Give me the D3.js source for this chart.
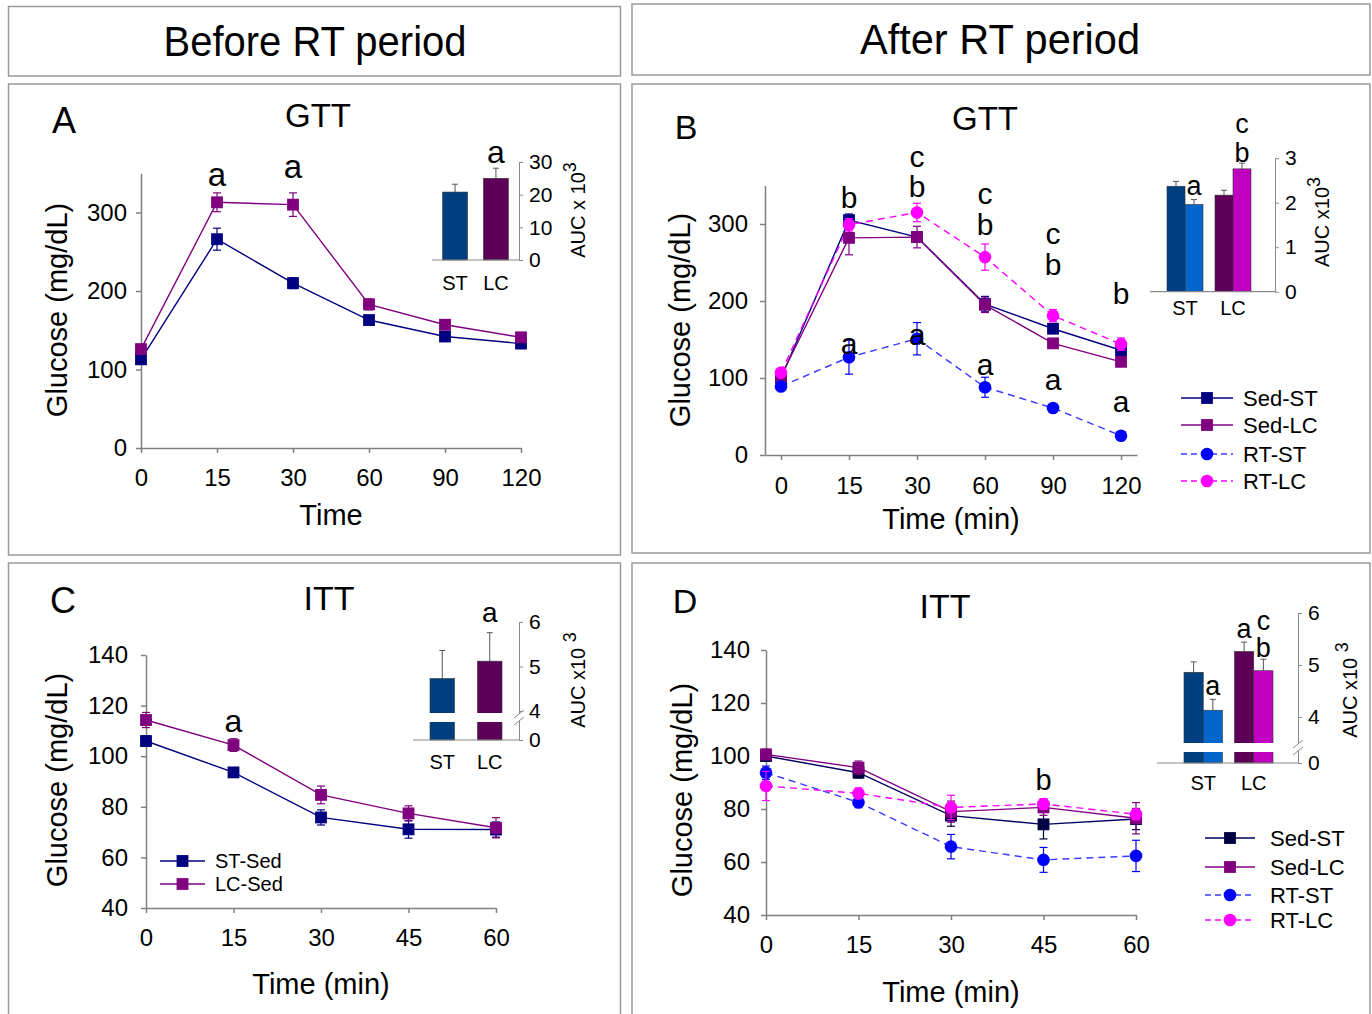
<!DOCTYPE html>
<html>
<head>
<meta charset="utf-8">
<style>
  body { margin: 0; background: #fff; }
  svg { display: block; font-family: 'Liberation Sans', Arial, sans-serif; }
  .box { fill: none; stroke: #9a9a9a; stroke-width: 1.5; }
  .axis path, .axis line { stroke: #808080; stroke-width: 1.5; }
  .inset path, .inset line { stroke: #8a8a8a; stroke-width: 1; }
</style>
<title>GTT and ITT before and after RT period</title>
</head>
<body>
<svg width="1372" height="1014"></svg>
<script src="https://d3js.org/d3.v7.min.js"></script>
<script>
// ---- data ----
const gttTimes = ["0", "15", "30", "60", "90", "120"];
const ittTimes = ["0", "15", "30", "45", "60"];

// A: GTT before RT
const gttBeforeST = [113, 266, 210, 163, 142, 133];
const gttBeforeSTErr = [5, 14, 7, 4, 4, 3];
const gttBeforeLC = [126, 313, 310, 183, 157, 141];
const gttBeforeLCErr = [5, 12, 15, 7, 4, 4];

// B: GTT after RT
const gttSedST = [100, 305, 283, 196, 164, 136];
const gttSedSTErr = [4, 8, 6, 10, 5, 5];
const gttSedLC = [102, 282, 283, 195, 145, 121];
const gttSedLCErr = [4, 22, 14, 10, 4, 4];
const gttRTST = [89, 127, 151, 88, 61, 25];
const gttRTSTErr = [4, 22, 21, 13, 3, 3];
const gttRTLC = [107, 299, 315, 257, 181, 144];
const gttRTLCErr = [5, 8, 12, 17, 8, 8];

// C: ITT before RT
const ittBeforeST = [106, 93.6, 75.8, 71.1, 71];
const ittBeforeSTErr = [2, 1.5, 3, 3.5, 3];
const ittBeforeLC = [114.3, 104.4, 84.7, 77.4, 71.7];
const ittBeforeLCErr = [3, 2.5, 3.5, 3, 4];

// D: ITT after RT
const ittSedST = [100, 93.7, 77.5, 74.2, 76.2];
const ittSedSTErr = [2, 2, 4, 5.5, 4];
const ittSedLC = [100.6, 95.6, 79, 80.6, 76.5];
const ittSedLCErr = [2, 2.5, 4, 3, 5.9];
const ittRTST = [93.7, 82.5, 65.8, 60.8, 62.3];
const ittRTSTErr = [2.5, 2, 4.6, 4.7, 5.9];
const ittRTLC = [88.7, 85.9, 80.6, 81.9, 78];
const ittRTLCErr = [5.5, 2, 4.6, 2, 2];

// AUC insets (x 10^3)
const aucGroups = ["ST", "LC"];
const aucBeforeGTT = [20.8, 25.0];
const aucBeforeGTTErr = [2.4, 3.1];
const aucAfterGTTSed = [2.37, 2.17];
const aucAfterGTTSedErr = [0.11, 0.11];
const aucAfterGTTRT = [1.96, 2.76];
const aucAfterGTTRTErr = [0.11, 0.13];
const aucBeforeITT = [4.73, 5.12];
const aucBeforeITTErr = [0.63, 0.64];
const aucAfterITTSed = [4.86, 5.26];
const aucAfterITTSedErr = [0.20, 0.18];
const aucAfterITTRT = [4.13, 4.89];
const aucAfterITTRTErr = [0.21, 0.22];

// significance letters (time, letter, glucose value at baseline)
const lettersA = [["15", "a", 334], ["30", "a", 344]];
const lettersB = [["15", "b", 321], ["30", "c", 374], ["30", "b", 335], ["60", "c", 326], ["60", "b", 286],
                  ["90", "c", 274], ["90", "b", 234], ["120", "b", 196],
                  ["15", "a", 131], ["30", "a", 143], ["60", "a", 104], ["90", "a", 84], ["120", "a", 56]];
const lettersC = [["15", "a", 109.6]];
const lettersD = [["45", "b", 87.2]];
const aucLettersA = [["LC", "all", "a", 29.7]];
const aucLettersB = [["ST", "RT", "a", 2.17], ["LC", "RT", "b", 2.92], ["LC", "RT", "c", 3.57]];
const aucLettersC = [["LC", "all", "a", 6.0]];
const aucLettersD = [["ST", "RT", "a", 4.42], ["LC", "Sed", "a", 5.52], ["LC", "RT", "b", 5.15], ["LC", "RT", "c", 5.68]];

const navy = "#000080", purple = "#800080", blue = "#0000ff", magenta = "#ff00ff";

const svg = d3.select("svg");

function box(x, y, w, h) {
    svg.append("rect").attr("class", "box").attr("x", x).attr("y", y).attr("width", w).attr("height", h);
}

function label(x, y, text, size, opts = {}) {
    const t = svg.append("text")
        .attr("x", x).attr("y", y)
        .attr("text-anchor", opts.anchor || "middle")
        .attr("font-size", size)
        .attr("fill", "#000")
        .text(text);
    if (opts.length) t.attr("textLength", opts.length).attr("lengthAdjust", "spacingAndGlyphs");
    return t;
}

function vlabel(x, y, text, size) {
    svg.append("text")
        .attr("transform", `translate(${x},${y}) rotate(-90)`)
        .attr("text-anchor", "middle").attr("dy", "0.35em")
        .attr("font-size", size).text(text);
}

function linePanel(o) {
    const x = d3.scalePoint().domain(o.times).range(o.xRange).padding(o.xPad);
    const y = d3.scaleLinear().domain(o.yDomain).range(o.yRange);
    const g = svg.append("g");

    g.append("g").attr("class", "axis")
        .attr("transform", `translate(0,${o.yRange[0]})`)
        .call(d3.axisBottom(x).tickSize(5).tickSizeOuter(0).tickPadding(o.xTickPad))
        .attr("font-size", 24).attr("font-family", null);
    g.append("g").attr("class", "axis")
        .attr("transform", `translate(${o.xRange[0]},0)`)
        .call(d3.axisLeft(y).tickValues(o.yTicks).tickSize(5).tickSizeOuter(0).tickPadding(o.yTickPad))
        .attr("font-size", 24).attr("font-family", null);
    g.selectAll(".axis text").attr("fill", "#000");

    const line = d3.line().x((d, i) => x(o.times[i])).y(d => y(d));

    o.series.forEach(s => {
        g.append("path")
            .attr("d", line(s.values))
            .attr("fill", "none")
            .attr("stroke", s.line)
            .attr("stroke-width", 1.4)
            .attr("stroke-dasharray", s.dash ? "7,5" : null);
    });
    o.series.forEach(s => {
        const eb = g.append("g").attr("stroke", s.color).attr("stroke-width", 1.2);
        s.values.forEach((v, i) => {
            const cx = x(o.times[i]);
            const y0 = y(v - s.err[i]), y1 = y(v + s.err[i]);
            eb.append("line").attr("x1", cx).attr("x2", cx).attr("y1", y0).attr("y2", y1);
            eb.append("line").attr("x1", cx - 4).attr("x2", cx + 4).attr("y1", y0).attr("y2", y0);
            eb.append("line").attr("x1", cx - 4).attr("x2", cx + 4).attr("y1", y1).attr("y2", y1);
        });
        const sym = d3.symbol(s.marker === "circle" ? d3.symbolCircle : d3.symbolSquare, s.marker === "circle" ? 125 : 140);
        g.append("g").selectAll("path")
            .data(s.values)
            .join("path")
            .attr("transform", (d, i) => `translate(${x(o.times[i])},${y(d)})`)
            .attr("d", sym)
            .attr("fill", s.color);
    });

    g.append("g").selectAll("text")
        .data(o.letters)
        .join("text")
        .attr("x", d => x(d[0]))
        .attr("y", d => y(d[2]))
        .attr("text-anchor", "middle")
        .attr("font-size", o.letterSize)
        .text(d => d[1]);
}

function inset(o) {
    const g = svg.append("g");
    const gx = d3.scaleBand().domain(aucGroups).range(o.xRange).paddingInner(o.padIn).paddingOuter(o.padOut);
    const sx = d3.scaleBand().domain(o.bars.map(b => b.key)).range([0, gx.bandwidth()]);
    const y = d3.scaleLinear().domain(o.yDomain).range(o.yRange);

    o.bars.forEach(b => {
        aucGroups.forEach((grp, gi) => {
            const bx = gx(grp) + sx(b.key);
            const cx = bx + sx.bandwidth() / 2;
            const top = y(b.values[gi] + b.err[gi]);
            g.append("line").attr("x1", cx).attr("x2", cx).attr("y1", y(b.values[gi])).attr("y2", top)
                .attr("stroke", "#555").attr("stroke-width", 1);
            g.append("line").attr("x1", cx - 3).attr("x2", cx + 3).attr("y1", top).attr("y2", top)
                .attr("stroke", "#555").attr("stroke-width", 1);
            g.append("rect")
                .attr("x", bx).attr("width", sx.bandwidth())
                .attr("y", y(b.values[gi]))
                .attr("height", y(0) - y(b.values[gi]))
                .attr("fill", b.colors[gi])
                .attr("stroke", "#333").attr("stroke-width", 0.6);
        });
    });

    if (o.gap) {
        g.append("rect").attr("x", o.baseX0).attr("width", o.axisX - o.baseX0 + 8)
            .attr("y", o.gap[0]).attr("height", o.gap[1] - o.gap[0]).attr("fill", "#fff");
    }

    g.append("line").attr("x1", o.baseX0).attr("x2", o.axisX)
        .attr("y1", y(0)).attr("y2", y(0)).attr("stroke", "#8a8a8a").attr("stroke-width", 1.2);

    const ax = g.append("g").attr("class", "inset")
        .attr("transform", `translate(${o.axisX},0)`)
        .call(d3.axisRight(y).tickValues(o.ticks).tickFormat(d3.format("d")).tickSize(4).tickSizeOuter(0).tickPadding(6))
        .attr("font-size", o.tickSize).attr("font-family", null);
    ax.selectAll("text").attr("fill", "#000");

    if (o.gap) {
        g.append("rect").attr("x", o.axisX - 2).attr("width", 4)
            .attr("y", o.gap[0] + 1).attr("height", o.gap[1] - o.gap[0] - 2).attr("fill", "#fff");
        [o.gap[0] + 1, o.gap[1] - 1].forEach(yy => {
            g.append("line").attr("x1", o.axisX - 5).attr("x2", o.axisX + 5)
                .attr("y1", yy + 4).attr("y2", yy - 4).attr("stroke", "#8a8a8a").attr("stroke-width", 1);
        });
    }

    aucGroups.forEach(grp => {
        g.append("text").attr("x", gx(grp) + gx.bandwidth() / 2).attr("y", o.catY)
            .attr("text-anchor", "middle").attr("font-size", 20).text(grp);
    });

    g.append("g").selectAll("text")
        .data(o.letters)
        .join("text")
        .attr("x", d => gx(d[0]) + sx(d[1]) + sx.bandwidth() / 2)
        .attr("y", d => y(d[3]))
        .attr("text-anchor", "middle")
        .attr("font-size", o.letterSize)
        .text(d => d[2]);

    const t = g.append("text")
        .attr("transform", `translate(${o.aucLabel[0]},${o.aucLabel[1]}) rotate(-90)`)
        .attr("text-anchor", "middle").attr("dy", "0.35em")
        .attr("font-size", 20);
    t.append("tspan").text(o.aucText);
    t.append("tspan").attr("dy", -9).attr("font-size", 18).text(o.aucSup);
}

function legend(items, x0, x1, ys, textX, size) {
    const g = svg.append("g");
    items.forEach((s, i) => {
        const yy = ys[i];
        g.append("line").attr("x1", x0).attr("x2", x1).attr("y1", yy).attr("y2", yy)
            .attr("stroke", s.line).attr("stroke-width", 1.4)
            .attr("stroke-dasharray", s.dash ? "6,4" : null);
        g.append("path")
            .attr("transform", `translate(${(x0 + x1) / 2},${yy})`)
            .attr("d", d3.symbol(s.marker === "circle" ? d3.symbolCircle : d3.symbolSquare, s.marker === "circle" ? 125 : 140))
            .attr("fill", s.color);
        g.append("text").attr("x", textX).attr("y", yy).attr("dy", "0.36em")
            .attr("font-size", size).text(s.name);
    });
}

// ---- frames and headings ----
box(8.5, 6.5, 612, 69.5);
box(632, 4, 738, 71);
box(8.5, 84, 612, 471);
box(632, 84, 738, 469);
box(8.5, 563, 612, 460);
box(632, 563, 738, 460);

label(315, 56, "Before RT period", 43, { length: 303 });
label(1000, 54, "After RT period", 43, { length: 280 });

label(64, 133, "A", 36);
label(686, 139, "B", 34);
label(63, 613, "C", 36);
label(685, 613, "D", 34);
label(318, 127, "GTT", 33);
label(985, 130, "GTT", 33);
label(329, 610, "ITT", 34);
label(945, 618, "ITT", 34);

vlabel(57, 310, "Glucose (mg/dL)", 29);
vlabel(680, 320, "Glucose (mg/dL)", 29);
vlabel(57, 780, "Glucose (mg/dL)", 29);
vlabel(682, 790, "Glucose (mg/dL)", 29);
label(331, 525, "Time", 29);
label(951, 529, "Time (min)", 29);
label(321, 994, "Time (min)", 29);
label(951, 1002, "Time (min)", 29);

// ---- panel A ----
const seriesA = [
    { name: "ST", values: gttBeforeST, err: gttBeforeSTErr, color: navy, line: navy, marker: "square" },
    { name: "LC", values: gttBeforeLC, err: gttBeforeLCErr, color: purple, line: purple, marker: "square" }
];
linePanel({ times: gttTimes, xRange: [141, 521], xPad: 0, yDomain: [0, 350], yRange: [448, 173.25],
    yTicks: [0, 100, 200, 300], xTickPad: 16, yTickPad: 9, series: seriesA, letters: lettersA, letterSize: 33 });

// ---- panel B ----
const seriesB = [
    { name: "Sed-ST", values: gttSedST, err: gttSedSTErr, color: navy, line: navy, marker: "square" },
    { name: "Sed-LC", values: gttSedLC, err: gttSedLCErr, color: purple, line: purple, marker: "square" },
    { name: "RT-ST", values: gttRTST, err: gttRTSTErr, color: blue, line: "#3a3aff", marker: "circle", dash: true },
    { name: "RT-LC", values: gttRTLC, err: gttRTLCErr, color: magenta, line: magenta, marker: "circle", dash: true }
];
linePanel({ times: gttTimes, xRange: [765, 1137], xPad: 0.235, yDomain: [0, 350], yRange: [455, 185.5],
    yTicks: [0, 100, 200, 300], xTickPad: 17, yTickPad: 12, series: seriesB, letters: lettersB, letterSize: 30 });
legend(seriesB, 1181, 1233, [398, 425, 454, 481], 1243, 22);

// ---- panel C ----
const seriesC = [
    { name: "ST-Sed", values: ittBeforeST, err: ittBeforeSTErr, color: navy, line: navy, marker: "square" },
    { name: "LC-Sed", values: ittBeforeLC, err: ittBeforeLCErr, color: purple, line: purple, marker: "square" }
];
linePanel({ times: ittTimes, xRange: [146, 496], xPad: 0, yDomain: [40, 140], yRange: [908, 655],
    yTicks: [40, 60, 80, 100, 120, 140], xTickPad: 16, yTickPad: 13, series: seriesC, letters: lettersC, letterSize: 32 });
legend(seriesC, 160, 205, [861, 884], 215, 20);

// ---- panel D ----
const seriesD = [
    { name: "Sed-ST", values: ittSedST, err: ittSedSTErr, color: "#000040", line: "#000060", marker: "square" },
    { name: "Sed-LC", values: ittSedLC, err: ittSedLCErr, color: purple, line: purple, marker: "square" },
    { name: "RT-ST", values: ittRTST, err: ittRTSTErr, color: blue, line: "#3a3aff", marker: "circle", dash: true },
    { name: "RT-LC", values: ittRTLC, err: ittRTLCErr, color: magenta, line: magenta, marker: "circle", dash: true }
];
linePanel({ times: ittTimes, xRange: [766, 1136], xPad: 0, yDomain: [40, 140], yRange: [915, 650],
    yTicks: [40, 60, 80, 100, 120, 140], xTickPad: 16, yTickPad: 11, series: seriesD, letters: lettersD, letterSize: 29 });
legend(seriesD, 1205, 1255, [838, 867, 895, 920], 1270, 22);

// ---- AUC insets ----
inset({ xRange: [432, 519], padIn: 0.39, padOut: 0.26, yDomain: [0, 30], yRange: [260, 162], ticks: [0, 10, 20, 30],
    axisX: 519, baseX0: 432, tickSize: 21, catY: 290,
    bars: [{ key: "all", values: aucBeforeGTT, err: aucBeforeGTTErr, colors: ["#003f7f", "#5c0058"] }],
    letters: aucLettersA, letterSize: 32, aucLabel: [578, 210], aucText: "AUC x 10", aucSup: "3" });

inset({ xRange: [1155, 1263], padIn: 0.25, padOut: 0.25, yDomain: [0, 3], yRange: [291.7, 158.2], ticks: [0, 1, 2, 3],
    axisX: 1275, baseX0: 1150, tickSize: 21, catY: 315,
    bars: [{ key: "Sed", values: aucAfterGTTSed, err: aucAfterGTTSedErr, colors: ["#003f7f", "#5c0058"] },
           { key: "RT", values: aucAfterGTTRT, err: aucAfterGTTRTErr, colors: ["#0066cc", "#c000c0"] }],
    letters: aucLettersB, letterSize: 27, aucLabel: [1322, 222], aucText: "AUC x10", aucSup: "3" });

inset({ xRange: [413, 519], padIn: 0.484, padOut: 0.358, yDomain: [0, 4, 6], yRange: [740, 711, 622], ticks: [0, 4, 5, 6],
    axisX: 519, baseX0: 413, tickSize: 21, catY: 769, gap: [713, 722],
    bars: [{ key: "all", values: aucBeforeITT, err: aucBeforeITTErr, colors: ["#003f7f", "#5c0058"] }],
    letters: aucLettersC, letterSize: 28, aucLabel: [578, 680], aucText: "AUC x10 ", aucSup: "3" });

inset({ xRange: [1160, 1297], padIn: 0.238, padOut: 0.475, yDomain: [0, 4, 6], yRange: [763, 717, 613], ticks: [0, 4, 5, 6],
    axisX: 1298, baseX0: 1157, tickSize: 21, catY: 790, gap: [743, 752],
    bars: [{ key: "Sed", values: aucAfterITTSed, err: aucAfterITTSedErr, colors: ["#003f7f", "#5c0058"] },
           { key: "RT", values: aucAfterITTRT, err: aucAfterITTRTErr, colors: ["#0066cc", "#c000c0"] }],
    letters: aucLettersD, letterSize: 27, aucLabel: [1350, 690], aucText: "AUC x10 ", aucSup: "3" });
</script>
</body>
</html>
